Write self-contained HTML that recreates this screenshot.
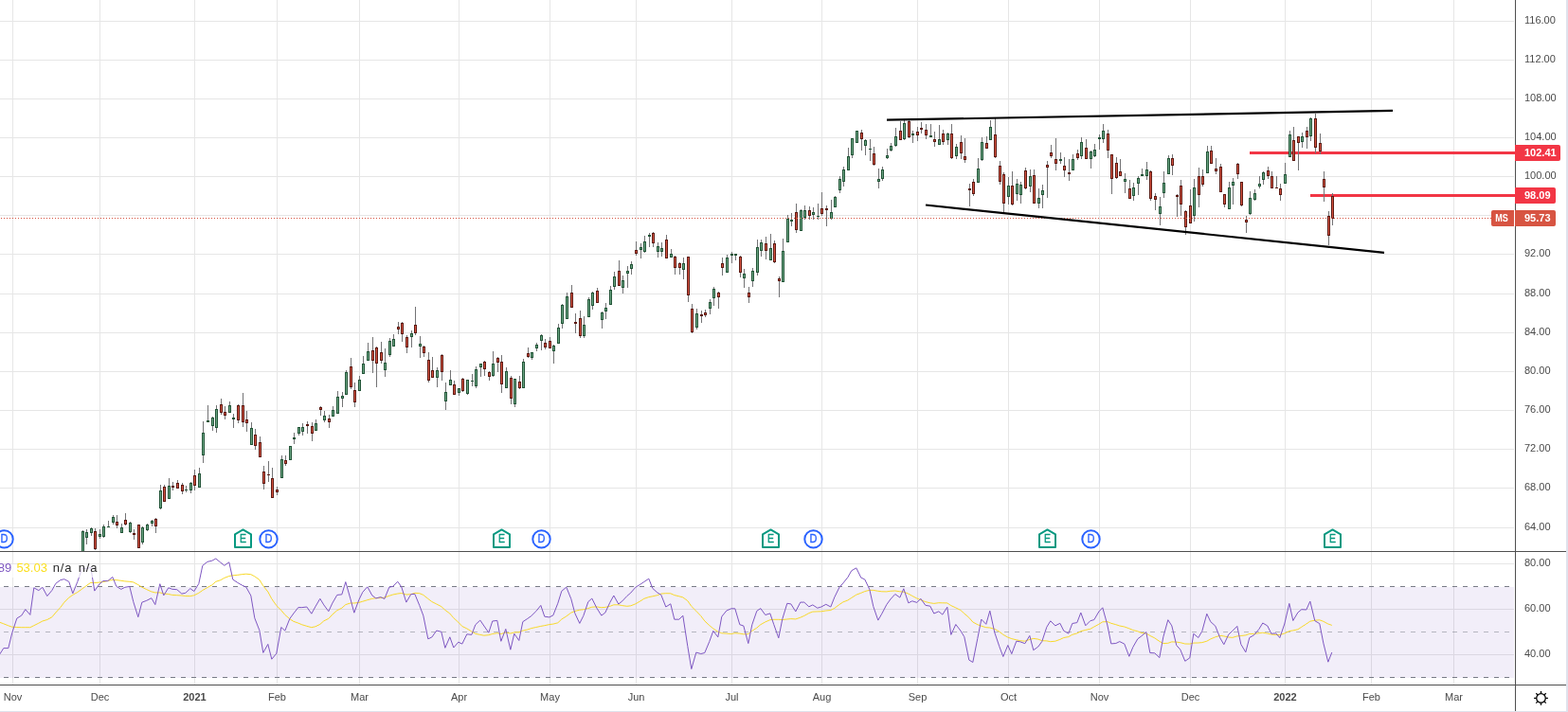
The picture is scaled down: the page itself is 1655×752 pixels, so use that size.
<!DOCTYPE html><html><head><meta charset="utf-8"><title>MS chart</title><style>html,body{margin:0;padding:0;background:#fff;}body{width:1655px;height:752px;overflow:hidden;position:relative;}svg{position:absolute;left:0;top:0;display:block}text{font-family:"Liberation Sans",Arial,sans-serif;}</style></head><body>
<svg width="1655" height="752" viewBox="0 0 1655 752">
<defs><clipPath id="mc"><rect x="0" y="0" width="1599" height="582"/></clipPath><clipPath id="rc"><rect x="0" y="583" width="1599" height="140"/></clipPath></defs>
<rect x="0" y="0" width="1655" height="752" fill="#ffffff"/>
<g shape-rendering="crispEdges">
<rect x="13" y="0" width="1" height="582" fill="#e6e6e6"/>
<rect x="13" y="583" width="1" height="140" fill="#e6e6e6"/>
<rect x="105" y="0" width="1" height="582" fill="#e6e6e6"/>
<rect x="105" y="583" width="1" height="140" fill="#e6e6e6"/>
<rect x="205" y="0" width="1" height="582" fill="#e6e6e6"/>
<rect x="205" y="583" width="1" height="140" fill="#e6e6e6"/>
<rect x="292" y="0" width="1" height="582" fill="#e6e6e6"/>
<rect x="292" y="583" width="1" height="140" fill="#e6e6e6"/>
<rect x="379" y="0" width="1" height="582" fill="#e6e6e6"/>
<rect x="379" y="583" width="1" height="140" fill="#e6e6e6"/>
<rect x="484" y="0" width="1" height="582" fill="#e6e6e6"/>
<rect x="484" y="583" width="1" height="140" fill="#e6e6e6"/>
<rect x="580" y="0" width="1" height="582" fill="#e6e6e6"/>
<rect x="580" y="583" width="1" height="140" fill="#e6e6e6"/>
<rect x="671" y="0" width="1" height="582" fill="#e6e6e6"/>
<rect x="671" y="583" width="1" height="140" fill="#e6e6e6"/>
<rect x="772" y="0" width="1" height="582" fill="#e6e6e6"/>
<rect x="772" y="583" width="1" height="140" fill="#e6e6e6"/>
<rect x="867" y="0" width="1" height="582" fill="#e6e6e6"/>
<rect x="867" y="583" width="1" height="140" fill="#e6e6e6"/>
<rect x="968" y="0" width="1" height="582" fill="#e6e6e6"/>
<rect x="968" y="583" width="1" height="140" fill="#e6e6e6"/>
<rect x="1064" y="0" width="1" height="582" fill="#e6e6e6"/>
<rect x="1064" y="583" width="1" height="140" fill="#e6e6e6"/>
<rect x="1160" y="0" width="1" height="582" fill="#e6e6e6"/>
<rect x="1160" y="583" width="1" height="140" fill="#e6e6e6"/>
<rect x="1256" y="0" width="1" height="582" fill="#e6e6e6"/>
<rect x="1256" y="583" width="1" height="140" fill="#e6e6e6"/>
<rect x="1356" y="0" width="1" height="582" fill="#e6e6e6"/>
<rect x="1356" y="583" width="1" height="140" fill="#e6e6e6"/>
<rect x="1447" y="0" width="1" height="582" fill="#e6e6e6"/>
<rect x="1447" y="583" width="1" height="140" fill="#e6e6e6"/>
<rect x="1534" y="0" width="1" height="582" fill="#e6e6e6"/>
<rect x="1534" y="583" width="1" height="140" fill="#e6e6e6"/>
<rect x="0" y="22" width="1598" height="1" fill="#e6e6e6"/>
<rect x="0" y="63" width="1598" height="1" fill="#e6e6e6"/>
<rect x="0" y="104" width="1598" height="1" fill="#e6e6e6"/>
<rect x="0" y="145" width="1598" height="1" fill="#e6e6e6"/>
<rect x="0" y="186" width="1598" height="1" fill="#e6e6e6"/>
<rect x="0" y="227" width="1598" height="1" fill="#e6e6e6"/>
<rect x="0" y="268" width="1598" height="1" fill="#e6e6e6"/>
<rect x="0" y="310" width="1598" height="1" fill="#e6e6e6"/>
<rect x="0" y="351" width="1598" height="1" fill="#e6e6e6"/>
<rect x="0" y="392" width="1598" height="1" fill="#e6e6e6"/>
<rect x="0" y="433" width="1598" height="1" fill="#e6e6e6"/>
<rect x="0" y="474" width="1598" height="1" fill="#e6e6e6"/>
<rect x="0" y="515" width="1598" height="1" fill="#e6e6e6"/>
<rect x="0" y="557" width="1598" height="1" fill="#e6e6e6"/>
<rect x="0" y="595" width="1598" height="1" fill="#e6e6e6"/>
<rect x="0" y="643" width="1598" height="1" fill="#e6e6e6"/>
<rect x="0" y="691" width="1598" height="1" fill="#e6e6e6"/>
<rect x="0" y="620" width="1598" height="96" fill="#7e57c2" fill-opacity="0.1"/>
</g>
<line x1="4" y1="619.5" x2="1598" y2="619.5" stroke="#787b86" stroke-opacity="1" stroke-width="1" stroke-dasharray="5 6" shape-rendering="crispEdges"/>
<line x1="4" y1="667.5" x2="1598" y2="667.5" stroke="#787b86" stroke-opacity="0.5" stroke-width="1" stroke-dasharray="5 6" shape-rendering="crispEdges"/>
<line x1="4" y1="715.5" x2="1598" y2="715.5" stroke="#787b86" stroke-opacity="1" stroke-width="1" stroke-dasharray="5 6" shape-rendering="crispEdges"/>
<rect x="1319" y="160" width="280" height="3" fill="#f23645" shape-rendering="crispEdges"/>
<rect x="1383" y="205" width="216" height="3" fill="#f23645" shape-rendering="crispEdges"/>
<g clip-path="url(#mc)" shape-rendering="crispEdges"><rect x="87" y="560" width="1" height="30" fill="#737375"/><rect x="86" y="561" width="3" height="29" fill="#225437"/><rect x="87" y="562" width="1" height="27" fill="#6ba583"/><rect x="91" y="559" width="1" height="16" fill="#737375"/><rect x="90" y="562" width="3" height="6" fill="#225437"/><rect x="91" y="563" width="1" height="4" fill="#6ba583"/><rect x="96" y="557" width="1" height="9" fill="#737375"/><rect x="95" y="558" width="3" height="5" fill="#225437"/><rect x="96" y="559" width="1" height="3" fill="#6ba583"/><rect x="100" y="558" width="1" height="23" fill="#737375"/><rect x="99" y="561" width="3" height="19" fill="#5b1a13"/><rect x="100" y="562" width="1" height="17" fill="#d75442"/><rect x="105" y="559" width="1" height="10" fill="#737375"/><rect x="104" y="564" width="3" height="3" fill="#225437"/><rect x="105" y="565" width="1" height="1" fill="#6ba583"/><rect x="109" y="554" width="1" height="14" fill="#737375"/><rect x="108" y="556" width="3" height="11" fill="#225437"/><rect x="109" y="557" width="1" height="9" fill="#6ba583"/><rect x="114" y="550" width="1" height="7" fill="#737375"/><rect x="113" y="556" width="3" height="1" fill="#225437"/><rect x="119" y="544" width="1" height="10" fill="#737375"/><rect x="118" y="546" width="3" height="6" fill="#225437"/><rect x="119" y="547" width="1" height="4" fill="#6ba583"/><rect x="123" y="544" width="1" height="14" fill="#737375"/><rect x="122" y="551" width="3" height="4" fill="#5b1a13"/><rect x="123" y="552" width="1" height="2" fill="#d75442"/><rect x="128" y="553" width="1" height="10" fill="#737375"/><rect x="127" y="557" width="3" height="6" fill="#225437"/><rect x="128" y="558" width="1" height="4" fill="#6ba583"/><rect x="132" y="542" width="1" height="13" fill="#737375"/><rect x="131" y="549" width="3" height="5" fill="#5b1a13"/><rect x="132" y="550" width="1" height="3" fill="#d75442"/><rect x="137" y="551" width="1" height="12" fill="#737375"/><rect x="136" y="552" width="3" height="10" fill="#225437"/><rect x="137" y="553" width="1" height="8" fill="#6ba583"/><rect x="141" y="559" width="1" height="11" fill="#737375"/><rect x="140" y="563" width="3" height="2" fill="#5b1a13"/><rect x="146" y="554" width="1" height="25" fill="#737375"/><rect x="145" y="554" width="3" height="25" fill="#5b1a13"/><rect x="146" y="555" width="1" height="23" fill="#d75442"/><rect x="150" y="556" width="1" height="19" fill="#737375"/><rect x="149" y="557" width="3" height="16" fill="#225437"/><rect x="150" y="558" width="1" height="14" fill="#6ba583"/><rect x="155" y="553" width="1" height="8" fill="#737375"/><rect x="154" y="554" width="3" height="6" fill="#225437"/><rect x="155" y="555" width="1" height="4" fill="#6ba583"/><rect x="160" y="549" width="1" height="7" fill="#737375"/><rect x="159" y="550" width="3" height="3" fill="#225437"/><rect x="160" y="551" width="1" height="1" fill="#6ba583"/><rect x="164" y="547" width="1" height="16" fill="#737375"/><rect x="163" y="548" width="3" height="8" fill="#5b1a13"/><rect x="164" y="549" width="1" height="6" fill="#d75442"/><rect x="169" y="512" width="1" height="26" fill="#737375"/><rect x="168" y="518" width="3" height="19" fill="#225437"/><rect x="169" y="519" width="1" height="17" fill="#6ba583"/><rect x="173" y="512" width="1" height="18" fill="#737375"/><rect x="172" y="514" width="3" height="16" fill="#5b1a13"/><rect x="173" y="515" width="1" height="14" fill="#d75442"/><rect x="178" y="505" width="1" height="22" fill="#737375"/><rect x="177" y="513" width="3" height="14" fill="#225437"/><rect x="178" y="514" width="1" height="12" fill="#6ba583"/><rect x="182" y="509" width="1" height="9" fill="#737375"/><rect x="181" y="513" width="3" height="2" fill="#5b1a13"/><rect x="187" y="507" width="1" height="9" fill="#737375"/><rect x="186" y="510" width="3" height="6" fill="#5b1a13"/><rect x="187" y="511" width="1" height="4" fill="#d75442"/><rect x="192" y="510" width="1" height="12" fill="#737375"/><rect x="191" y="512" width="3" height="7" fill="#5b1a13"/><rect x="192" y="513" width="1" height="5" fill="#d75442"/><rect x="196" y="513" width="1" height="7" fill="#737375"/><rect x="195" y="517" width="3" height="1" fill="#225437"/><rect x="201" y="509" width="1" height="12" fill="#737375"/><rect x="200" y="510" width="3" height="8" fill="#225437"/><rect x="201" y="511" width="1" height="6" fill="#6ba583"/><rect x="205" y="496" width="1" height="22" fill="#737375"/><rect x="204" y="502" width="3" height="11" fill="#5b1a13"/><rect x="205" y="503" width="1" height="9" fill="#d75442"/><rect x="210" y="494" width="1" height="21" fill="#737375"/><rect x="209" y="500" width="3" height="15" fill="#225437"/><rect x="210" y="501" width="1" height="13" fill="#6ba583"/><rect x="214" y="445" width="1" height="44" fill="#737375"/><rect x="213" y="457" width="3" height="24" fill="#225437"/><rect x="214" y="458" width="1" height="22" fill="#6ba583"/><rect x="219" y="428" width="1" height="18" fill="#737375"/><rect x="218" y="444" width="3" height="2" fill="#225437"/><rect x="224" y="440" width="1" height="15" fill="#737375"/><rect x="223" y="441" width="3" height="9" fill="#225437"/><rect x="224" y="442" width="1" height="7" fill="#6ba583"/><rect x="228" y="428" width="1" height="29" fill="#737375"/><rect x="227" y="432" width="3" height="20" fill="#225437"/><rect x="228" y="433" width="1" height="18" fill="#6ba583"/><rect x="233" y="421" width="1" height="17" fill="#737375"/><rect x="232" y="427" width="3" height="9" fill="#5b1a13"/><rect x="233" y="428" width="1" height="7" fill="#d75442"/><rect x="237" y="429" width="1" height="14" fill="#737375"/><rect x="236" y="435" width="3" height="4" fill="#5b1a13"/><rect x="237" y="436" width="1" height="2" fill="#d75442"/><rect x="242" y="424" width="1" height="12" fill="#737375"/><rect x="241" y="428" width="3" height="8" fill="#225437"/><rect x="242" y="429" width="1" height="6" fill="#6ba583"/><rect x="246" y="437" width="1" height="15" fill="#737375"/><rect x="245" y="441" width="3" height="2" fill="#225437"/><rect x="251" y="427" width="1" height="20" fill="#737375"/><rect x="250" y="428" width="3" height="16" fill="#5b1a13"/><rect x="251" y="429" width="1" height="14" fill="#d75442"/><rect x="256" y="415" width="1" height="36" fill="#737375"/><rect x="255" y="428" width="3" height="18" fill="#5b1a13"/><rect x="256" y="429" width="1" height="16" fill="#d75442"/><rect x="260" y="434" width="1" height="22" fill="#737375"/><rect x="259" y="443" width="3" height="4" fill="#5b1a13"/><rect x="260" y="444" width="1" height="2" fill="#d75442"/><rect x="265" y="446" width="1" height="24" fill="#737375"/><rect x="264" y="452" width="3" height="18" fill="#225437"/><rect x="265" y="453" width="1" height="16" fill="#6ba583"/><rect x="269" y="453" width="1" height="22" fill="#737375"/><rect x="268" y="459" width="3" height="12" fill="#5b1a13"/><rect x="269" y="460" width="1" height="10" fill="#d75442"/><rect x="274" y="461" width="1" height="22" fill="#737375"/><rect x="273" y="467" width="3" height="16" fill="#5b1a13"/><rect x="274" y="468" width="1" height="14" fill="#d75442"/><rect x="278" y="492" width="1" height="25" fill="#737375"/><rect x="277" y="498" width="3" height="13" fill="#5b1a13"/><rect x="278" y="499" width="1" height="11" fill="#d75442"/><rect x="283" y="487" width="1" height="22" fill="#737375"/><rect x="282" y="501" width="3" height="1" fill="#5b1a13"/><rect x="287" y="494" width="1" height="32" fill="#737375"/><rect x="286" y="505" width="3" height="21" fill="#5b1a13"/><rect x="287" y="506" width="1" height="19" fill="#d75442"/><rect x="292" y="514" width="1" height="9" fill="#737375"/><rect x="291" y="517" width="3" height="3" fill="#5b1a13"/><rect x="292" y="518" width="1" height="1" fill="#d75442"/><rect x="297" y="481" width="1" height="24" fill="#737375"/><rect x="296" y="485" width="3" height="20" fill="#225437"/><rect x="297" y="486" width="1" height="18" fill="#6ba583"/><rect x="301" y="481" width="1" height="11" fill="#737375"/><rect x="300" y="486" width="3" height="4" fill="#5b1a13"/><rect x="301" y="487" width="1" height="2" fill="#d75442"/><rect x="306" y="471" width="1" height="15" fill="#737375"/><rect x="305" y="471" width="3" height="15" fill="#225437"/><rect x="306" y="472" width="1" height="13" fill="#6ba583"/><rect x="310" y="457" width="1" height="12" fill="#737375"/><rect x="309" y="462" width="3" height="2" fill="#225437"/><rect x="315" y="451" width="1" height="9" fill="#737375"/><rect x="314" y="451" width="3" height="7" fill="#225437"/><rect x="315" y="452" width="1" height="5" fill="#6ba583"/><rect x="319" y="447" width="1" height="13" fill="#737375"/><rect x="318" y="451" width="3" height="5" fill="#225437"/><rect x="319" y="452" width="1" height="3" fill="#6ba583"/><rect x="324" y="445" width="1" height="13" fill="#737375"/><rect x="323" y="448" width="3" height="2" fill="#5b1a13"/><rect x="329" y="446" width="1" height="20" fill="#737375"/><rect x="328" y="450" width="3" height="8" fill="#5b1a13"/><rect x="329" y="451" width="1" height="6" fill="#d75442"/><rect x="333" y="443" width="1" height="12" fill="#737375"/><rect x="332" y="447" width="3" height="8" fill="#225437"/><rect x="333" y="448" width="1" height="6" fill="#6ba583"/><rect x="338" y="429" width="1" height="10" fill="#737375"/><rect x="337" y="430" width="3" height="3" fill="#5b1a13"/><rect x="338" y="431" width="1" height="1" fill="#d75442"/><rect x="342" y="434" width="1" height="12" fill="#737375"/><rect x="341" y="439" width="3" height="5" fill="#225437"/><rect x="342" y="440" width="1" height="3" fill="#6ba583"/><rect x="347" y="438" width="1" height="14" fill="#737375"/><rect x="346" y="442" width="3" height="4" fill="#5b1a13"/><rect x="347" y="443" width="1" height="2" fill="#d75442"/><rect x="351" y="429" width="1" height="11" fill="#737375"/><rect x="350" y="433" width="3" height="7" fill="#225437"/><rect x="351" y="434" width="1" height="5" fill="#6ba583"/><rect x="356" y="413" width="1" height="24" fill="#737375"/><rect x="355" y="419" width="3" height="18" fill="#225437"/><rect x="356" y="420" width="1" height="16" fill="#6ba583"/><rect x="361" y="414" width="1" height="16" fill="#737375"/><rect x="360" y="418" width="3" height="3" fill="#225437"/><rect x="361" y="419" width="1" height="1" fill="#6ba583"/><rect x="365" y="391" width="1" height="26" fill="#737375"/><rect x="364" y="393" width="3" height="24" fill="#225437"/><rect x="365" y="394" width="1" height="22" fill="#6ba583"/><rect x="370" y="378" width="1" height="33" fill="#737375"/><rect x="369" y="387" width="3" height="22" fill="#5b1a13"/><rect x="370" y="388" width="1" height="20" fill="#d75442"/><rect x="374" y="404" width="1" height="26" fill="#737375"/><rect x="373" y="412" width="3" height="13" fill="#5b1a13"/><rect x="374" y="413" width="1" height="11" fill="#d75442"/><rect x="379" y="397" width="1" height="16" fill="#737375"/><rect x="378" y="401" width="3" height="12" fill="#225437"/><rect x="379" y="402" width="1" height="10" fill="#6ba583"/><rect x="383" y="376" width="1" height="19" fill="#737375"/><rect x="382" y="384" width="3" height="11" fill="#225437"/><rect x="383" y="385" width="1" height="9" fill="#6ba583"/><rect x="388" y="362" width="1" height="19" fill="#737375"/><rect x="387" y="371" width="3" height="10" fill="#225437"/><rect x="388" y="372" width="1" height="8" fill="#6ba583"/><rect x="393" y="356" width="1" height="38" fill="#737375"/><rect x="392" y="370" width="3" height="11" fill="#5b1a13"/><rect x="393" y="371" width="1" height="9" fill="#d75442"/><rect x="397" y="366" width="1" height="43" fill="#737375"/><rect x="396" y="367" width="3" height="17" fill="#5b1a13"/><rect x="397" y="368" width="1" height="15" fill="#d75442"/><rect x="402" y="361" width="1" height="23" fill="#737375"/><rect x="401" y="372" width="3" height="9" fill="#5b1a13"/><rect x="402" y="373" width="1" height="7" fill="#d75442"/><rect x="406" y="368" width="1" height="30" fill="#737375"/><rect x="405" y="383" width="3" height="8" fill="#225437"/><rect x="406" y="384" width="1" height="6" fill="#6ba583"/><rect x="411" y="357" width="1" height="20" fill="#737375"/><rect x="410" y="360" width="3" height="15" fill="#225437"/><rect x="411" y="361" width="1" height="13" fill="#6ba583"/><rect x="415" y="353" width="1" height="13" fill="#737375"/><rect x="414" y="358" width="3" height="8" fill="#225437"/><rect x="415" y="359" width="1" height="6" fill="#6ba583"/><rect x="420" y="340" width="1" height="13" fill="#737375"/><rect x="419" y="345" width="3" height="3" fill="#5b1a13"/><rect x="420" y="346" width="1" height="1" fill="#d75442"/><rect x="424" y="340" width="1" height="21" fill="#737375"/><rect x="423" y="341" width="3" height="12" fill="#5b1a13"/><rect x="424" y="342" width="1" height="10" fill="#d75442"/><rect x="429" y="354" width="1" height="19" fill="#737375"/><rect x="428" y="356" width="3" height="11" fill="#5b1a13"/><rect x="429" y="357" width="1" height="9" fill="#d75442"/><rect x="434" y="349" width="1" height="18" fill="#737375"/><rect x="433" y="352" width="3" height="4" fill="#225437"/><rect x="434" y="353" width="1" height="2" fill="#6ba583"/><rect x="438" y="324" width="1" height="30" fill="#737375"/><rect x="437" y="343" width="3" height="9" fill="#5b1a13"/><rect x="438" y="344" width="1" height="7" fill="#d75442"/><rect x="443" y="355" width="1" height="23" fill="#737375"/><rect x="442" y="363" width="3" height="3" fill="#225437"/><rect x="443" y="364" width="1" height="1" fill="#6ba583"/><rect x="447" y="365" width="1" height="12" fill="#737375"/><rect x="446" y="366" width="3" height="7" fill="#5b1a13"/><rect x="447" y="367" width="1" height="5" fill="#d75442"/><rect x="452" y="372" width="1" height="32" fill="#737375"/><rect x="451" y="380" width="3" height="22" fill="#5b1a13"/><rect x="452" y="381" width="1" height="20" fill="#d75442"/><rect x="456" y="377" width="1" height="22" fill="#737375"/><rect x="455" y="391" width="3" height="8" fill="#5b1a13"/><rect x="456" y="392" width="1" height="6" fill="#d75442"/><rect x="461" y="388" width="1" height="21" fill="#737375"/><rect x="460" y="391" width="3" height="8" fill="#225437"/><rect x="461" y="392" width="1" height="6" fill="#6ba583"/><rect x="466" y="374" width="1" height="28" fill="#737375"/><rect x="465" y="375" width="3" height="18" fill="#5b1a13"/><rect x="466" y="376" width="1" height="16" fill="#d75442"/><rect x="470" y="404" width="1" height="29" fill="#737375"/><rect x="469" y="414" width="3" height="10" fill="#225437"/><rect x="470" y="415" width="1" height="8" fill="#6ba583"/><rect x="475" y="391" width="1" height="16" fill="#737375"/><rect x="474" y="401" width="3" height="6" fill="#225437"/><rect x="475" y="402" width="1" height="4" fill="#6ba583"/><rect x="479" y="402" width="1" height="15" fill="#737375"/><rect x="478" y="406" width="3" height="11" fill="#5b1a13"/><rect x="479" y="407" width="1" height="9" fill="#d75442"/><rect x="484" y="410" width="1" height="8" fill="#737375"/><rect x="483" y="410" width="3" height="5" fill="#225437"/><rect x="484" y="411" width="1" height="3" fill="#6ba583"/><rect x="488" y="399" width="1" height="15" fill="#737375"/><rect x="487" y="400" width="3" height="13" fill="#5b1a13"/><rect x="488" y="401" width="1" height="11" fill="#d75442"/><rect x="493" y="401" width="1" height="16" fill="#737375"/><rect x="492" y="401" width="3" height="15" fill="#225437"/><rect x="493" y="402" width="1" height="13" fill="#6ba583"/><rect x="498" y="395" width="1" height="13" fill="#737375"/><rect x="497" y="402" width="3" height="1" fill="#225437"/><rect x="502" y="387" width="1" height="23" fill="#737375"/><rect x="501" y="390" width="3" height="18" fill="#225437"/><rect x="502" y="391" width="1" height="16" fill="#6ba583"/><rect x="507" y="384" width="1" height="14" fill="#737375"/><rect x="506" y="384" width="3" height="4" fill="#225437"/><rect x="507" y="385" width="1" height="2" fill="#6ba583"/><rect x="511" y="381" width="1" height="16" fill="#737375"/><rect x="510" y="382" width="3" height="8" fill="#5b1a13"/><rect x="511" y="383" width="1" height="6" fill="#d75442"/><rect x="516" y="392" width="1" height="10" fill="#737375"/><rect x="515" y="393" width="3" height="5" fill="#5b1a13"/><rect x="516" y="394" width="1" height="3" fill="#d75442"/><rect x="520" y="371" width="1" height="27" fill="#737375"/><rect x="519" y="384" width="3" height="13" fill="#225437"/><rect x="520" y="385" width="1" height="11" fill="#6ba583"/><rect x="525" y="377" width="1" height="16" fill="#737375"/><rect x="524" y="378" width="3" height="5" fill="#5b1a13"/><rect x="525" y="379" width="1" height="3" fill="#d75442"/><rect x="529" y="375" width="1" height="40" fill="#737375"/><rect x="528" y="382" width="3" height="24" fill="#5b1a13"/><rect x="529" y="383" width="1" height="22" fill="#d75442"/><rect x="534" y="388" width="1" height="22" fill="#737375"/><rect x="533" y="392" width="3" height="18" fill="#225437"/><rect x="534" y="393" width="1" height="16" fill="#6ba583"/><rect x="539" y="397" width="1" height="30" fill="#737375"/><rect x="538" y="399" width="3" height="22" fill="#5b1a13"/><rect x="539" y="400" width="1" height="20" fill="#d75442"/><rect x="543" y="400" width="1" height="30" fill="#737375"/><rect x="542" y="400" width="3" height="27" fill="#225437"/><rect x="543" y="401" width="1" height="25" fill="#6ba583"/><rect x="548" y="397" width="1" height="14" fill="#737375"/><rect x="547" y="403" width="3" height="7" fill="#5b1a13"/><rect x="548" y="404" width="1" height="5" fill="#d75442"/><rect x="552" y="379" width="1" height="31" fill="#737375"/><rect x="551" y="382" width="3" height="28" fill="#225437"/><rect x="552" y="383" width="1" height="26" fill="#6ba583"/><rect x="557" y="367" width="1" height="11" fill="#737375"/><rect x="556" y="373" width="3" height="4" fill="#5b1a13"/><rect x="557" y="374" width="1" height="2" fill="#d75442"/><rect x="561" y="372" width="1" height="8" fill="#737375"/><rect x="560" y="372" width="3" height="6" fill="#225437"/><rect x="561" y="373" width="1" height="4" fill="#6ba583"/><rect x="566" y="362" width="1" height="9" fill="#737375"/><rect x="565" y="364" width="3" height="4" fill="#225437"/><rect x="566" y="365" width="1" height="2" fill="#6ba583"/><rect x="571" y="353" width="1" height="17" fill="#737375"/><rect x="570" y="354" width="3" height="6" fill="#225437"/><rect x="571" y="355" width="1" height="4" fill="#6ba583"/><rect x="575" y="358" width="1" height="11" fill="#737375"/><rect x="574" y="362" width="3" height="5" fill="#5b1a13"/><rect x="575" y="363" width="1" height="3" fill="#d75442"/><rect x="580" y="356" width="1" height="12" fill="#737375"/><rect x="579" y="360" width="3" height="8" fill="#5b1a13"/><rect x="580" y="361" width="1" height="6" fill="#d75442"/><rect x="584" y="364" width="1" height="20" fill="#737375"/><rect x="583" y="365" width="3" height="6" fill="#225437"/><rect x="584" y="366" width="1" height="4" fill="#6ba583"/><rect x="589" y="342" width="1" height="21" fill="#737375"/><rect x="588" y="346" width="3" height="17" fill="#225437"/><rect x="589" y="347" width="1" height="15" fill="#6ba583"/><rect x="593" y="321" width="1" height="26" fill="#737375"/><rect x="592" y="322" width="3" height="20" fill="#225437"/><rect x="593" y="323" width="1" height="18" fill="#6ba583"/><rect x="598" y="309" width="1" height="28" fill="#737375"/><rect x="597" y="313" width="3" height="24" fill="#225437"/><rect x="598" y="314" width="1" height="22" fill="#6ba583"/><rect x="603" y="301" width="1" height="24" fill="#737375"/><rect x="602" y="309" width="3" height="16" fill="#5b1a13"/><rect x="603" y="310" width="1" height="14" fill="#d75442"/><rect x="607" y="331" width="1" height="21" fill="#737375"/><rect x="606" y="340" width="3" height="2" fill="#5b1a13"/><rect x="612" y="328" width="1" height="29" fill="#737375"/><rect x="611" y="336" width="3" height="19" fill="#5b1a13"/><rect x="612" y="337" width="1" height="17" fill="#d75442"/><rect x="616" y="334" width="1" height="23" fill="#737375"/><rect x="615" y="343" width="3" height="12" fill="#225437"/><rect x="616" y="344" width="1" height="10" fill="#6ba583"/><rect x="621" y="314" width="1" height="21" fill="#737375"/><rect x="620" y="316" width="3" height="19" fill="#225437"/><rect x="621" y="317" width="1" height="17" fill="#6ba583"/><rect x="625" y="308" width="1" height="19" fill="#737375"/><rect x="624" y="309" width="3" height="14" fill="#225437"/><rect x="625" y="310" width="1" height="12" fill="#6ba583"/><rect x="630" y="304" width="1" height="16" fill="#737375"/><rect x="629" y="307" width="3" height="13" fill="#5b1a13"/><rect x="630" y="308" width="1" height="11" fill="#d75442"/><rect x="635" y="329" width="1" height="18" fill="#737375"/><rect x="634" y="330" width="3" height="8" fill="#225437"/><rect x="635" y="331" width="1" height="6" fill="#6ba583"/><rect x="639" y="320" width="1" height="17" fill="#737375"/><rect x="638" y="325" width="3" height="4" fill="#225437"/><rect x="639" y="326" width="1" height="2" fill="#6ba583"/><rect x="644" y="302" width="1" height="20" fill="#737375"/><rect x="643" y="306" width="3" height="16" fill="#225437"/><rect x="644" y="307" width="1" height="14" fill="#6ba583"/><rect x="648" y="287" width="1" height="19" fill="#737375"/><rect x="647" y="292" width="3" height="11" fill="#225437"/><rect x="648" y="293" width="1" height="9" fill="#6ba583"/><rect x="653" y="275" width="1" height="27" fill="#737375"/><rect x="652" y="286" width="3" height="16" fill="#5b1a13"/><rect x="653" y="287" width="1" height="14" fill="#d75442"/><rect x="657" y="291" width="1" height="19" fill="#737375"/><rect x="656" y="296" width="3" height="8" fill="#225437"/><rect x="657" y="297" width="1" height="6" fill="#6ba583"/><rect x="662" y="281" width="1" height="23" fill="#737375"/><rect x="661" y="286" width="3" height="3" fill="#225437"/><rect x="662" y="287" width="1" height="1" fill="#6ba583"/><rect x="666" y="276" width="1" height="14" fill="#737375"/><rect x="665" y="279" width="3" height="5" fill="#225437"/><rect x="666" y="280" width="1" height="3" fill="#6ba583"/><rect x="671" y="255" width="1" height="15" fill="#737375"/><rect x="670" y="264" width="3" height="4" fill="#5b1a13"/><rect x="671" y="265" width="1" height="2" fill="#d75442"/><rect x="676" y="257" width="1" height="16" fill="#737375"/><rect x="675" y="261" width="3" height="3" fill="#225437"/><rect x="676" y="262" width="1" height="1" fill="#6ba583"/><rect x="680" y="249" width="1" height="18" fill="#737375"/><rect x="679" y="255" width="3" height="11" fill="#225437"/><rect x="680" y="256" width="1" height="9" fill="#6ba583"/><rect x="685" y="246" width="1" height="15" fill="#737375"/><rect x="684" y="248" width="3" height="2" fill="#225437"/><rect x="689" y="245" width="1" height="16" fill="#737375"/><rect x="688" y="246" width="3" height="11" fill="#5b1a13"/><rect x="689" y="247" width="1" height="9" fill="#d75442"/><rect x="694" y="256" width="1" height="16" fill="#737375"/><rect x="693" y="260" width="3" height="6" fill="#225437"/><rect x="694" y="261" width="1" height="4" fill="#6ba583"/><rect x="698" y="256" width="1" height="15" fill="#737375"/><rect x="697" y="262" width="3" height="4" fill="#225437"/><rect x="698" y="263" width="1" height="2" fill="#6ba583"/><rect x="703" y="248" width="1" height="25" fill="#737375"/><rect x="702" y="253" width="3" height="20" fill="#5b1a13"/><rect x="703" y="254" width="1" height="18" fill="#d75442"/><rect x="708" y="263" width="1" height="9" fill="#737375"/><rect x="707" y="268" width="3" height="4" fill="#225437"/><rect x="708" y="269" width="1" height="2" fill="#6ba583"/><rect x="712" y="270" width="1" height="20" fill="#737375"/><rect x="711" y="271" width="3" height="12" fill="#5b1a13"/><rect x="712" y="272" width="1" height="10" fill="#d75442"/><rect x="717" y="277" width="1" height="13" fill="#737375"/><rect x="716" y="278" width="3" height="5" fill="#5b1a13"/><rect x="717" y="279" width="1" height="3" fill="#d75442"/><rect x="721" y="272" width="1" height="23" fill="#737375"/><rect x="720" y="278" width="3" height="7" fill="#225437"/><rect x="721" y="279" width="1" height="5" fill="#6ba583"/><rect x="726" y="271" width="1" height="48" fill="#737375"/><rect x="725" y="271" width="3" height="41" fill="#5b1a13"/><rect x="726" y="272" width="1" height="39" fill="#d75442"/><rect x="730" y="321" width="1" height="31" fill="#737375"/><rect x="729" y="326" width="3" height="25" fill="#5b1a13"/><rect x="730" y="327" width="1" height="23" fill="#d75442"/><rect x="735" y="326" width="1" height="22" fill="#737375"/><rect x="734" y="331" width="3" height="15" fill="#225437"/><rect x="735" y="332" width="1" height="13" fill="#6ba583"/><rect x="740" y="328" width="1" height="13" fill="#737375"/><rect x="739" y="332" width="3" height="2" fill="#5b1a13"/><rect x="744" y="327" width="1" height="8" fill="#737375"/><rect x="743" y="330" width="3" height="3" fill="#5b1a13"/><rect x="744" y="331" width="1" height="1" fill="#d75442"/><rect x="749" y="316" width="1" height="16" fill="#737375"/><rect x="748" y="319" width="3" height="7" fill="#225437"/><rect x="749" y="320" width="1" height="5" fill="#6ba583"/><rect x="753" y="303" width="1" height="20" fill="#737375"/><rect x="752" y="305" width="3" height="10" fill="#225437"/><rect x="753" y="306" width="1" height="8" fill="#6ba583"/><rect x="758" y="308" width="1" height="18" fill="#737375"/><rect x="757" y="309" width="3" height="5" fill="#5b1a13"/><rect x="758" y="310" width="1" height="3" fill="#d75442"/><rect x="762" y="272" width="1" height="19" fill="#737375"/><rect x="761" y="278" width="3" height="5" fill="#5b1a13"/><rect x="762" y="279" width="1" height="3" fill="#d75442"/><rect x="767" y="269" width="1" height="19" fill="#737375"/><rect x="766" y="272" width="3" height="16" fill="#225437"/><rect x="767" y="273" width="1" height="14" fill="#6ba583"/><rect x="772" y="266" width="1" height="12" fill="#737375"/><rect x="771" y="268" width="3" height="2" fill="#225437"/><rect x="776" y="268" width="1" height="7" fill="#737375"/><rect x="775" y="268" width="3" height="2" fill="#225437"/><rect x="781" y="270" width="1" height="23" fill="#737375"/><rect x="780" y="271" width="3" height="17" fill="#5b1a13"/><rect x="781" y="272" width="1" height="15" fill="#d75442"/><rect x="785" y="284" width="1" height="20" fill="#737375"/><rect x="784" y="289" width="3" height="5" fill="#225437"/><rect x="785" y="290" width="1" height="3" fill="#6ba583"/><rect x="790" y="303" width="1" height="17" fill="#737375"/><rect x="789" y="309" width="3" height="5" fill="#5b1a13"/><rect x="790" y="310" width="1" height="3" fill="#d75442"/><rect x="794" y="283" width="1" height="20" fill="#737375"/><rect x="793" y="286" width="3" height="11" fill="#225437"/><rect x="794" y="287" width="1" height="9" fill="#6ba583"/><rect x="799" y="253" width="1" height="38" fill="#737375"/><rect x="798" y="261" width="3" height="27" fill="#225437"/><rect x="799" y="262" width="1" height="25" fill="#6ba583"/><rect x="803" y="253" width="1" height="18" fill="#737375"/><rect x="802" y="256" width="3" height="9" fill="#225437"/><rect x="803" y="257" width="1" height="7" fill="#6ba583"/><rect x="808" y="250" width="1" height="24" fill="#737375"/><rect x="807" y="257" width="3" height="8" fill="#5b1a13"/><rect x="808" y="258" width="1" height="6" fill="#d75442"/><rect x="813" y="247" width="1" height="28" fill="#737375"/><rect x="812" y="262" width="3" height="13" fill="#225437"/><rect x="813" y="263" width="1" height="11" fill="#6ba583"/><rect x="817" y="254" width="1" height="24" fill="#737375"/><rect x="816" y="257" width="3" height="20" fill="#5b1a13"/><rect x="817" y="258" width="1" height="18" fill="#d75442"/><rect x="822" y="292" width="1" height="22" fill="#737375"/><rect x="821" y="294" width="3" height="3" fill="#5b1a13"/><rect x="822" y="295" width="1" height="1" fill="#d75442"/><rect x="826" y="252" width="1" height="46" fill="#737375"/><rect x="825" y="265" width="3" height="33" fill="#225437"/><rect x="826" y="266" width="1" height="31" fill="#6ba583"/><rect x="831" y="227" width="1" height="29" fill="#737375"/><rect x="830" y="231" width="3" height="25" fill="#225437"/><rect x="831" y="232" width="1" height="23" fill="#6ba583"/><rect x="835" y="225" width="1" height="14" fill="#737375"/><rect x="834" y="232" width="3" height="2" fill="#225437"/><rect x="840" y="215" width="1" height="31" fill="#737375"/><rect x="839" y="224" width="3" height="19" fill="#5b1a13"/><rect x="840" y="225" width="1" height="17" fill="#d75442"/><rect x="845" y="221" width="1" height="23" fill="#737375"/><rect x="844" y="222" width="3" height="22" fill="#225437"/><rect x="845" y="223" width="1" height="20" fill="#6ba583"/><rect x="849" y="217" width="1" height="15" fill="#737375"/><rect x="848" y="222" width="3" height="8" fill="#225437"/><rect x="849" y="223" width="1" height="6" fill="#6ba583"/><rect x="854" y="218" width="1" height="14" fill="#737375"/><rect x="853" y="222" width="3" height="6" fill="#5b1a13"/><rect x="854" y="223" width="1" height="4" fill="#d75442"/><rect x="858" y="219" width="1" height="13" fill="#737375"/><rect x="857" y="224" width="3" height="3" fill="#225437"/><rect x="858" y="225" width="1" height="1" fill="#6ba583"/><rect x="863" y="215" width="1" height="17" fill="#737375"/><rect x="862" y="228" width="3" height="1" fill="#225437"/><rect x="867" y="203" width="1" height="25" fill="#737375"/><rect x="866" y="220" width="3" height="6" fill="#5b1a13"/><rect x="867" y="221" width="1" height="4" fill="#d75442"/><rect x="872" y="217" width="1" height="22" fill="#737375"/><rect x="871" y="220" width="3" height="2" fill="#5b1a13"/><rect x="877" y="211" width="1" height="21" fill="#737375"/><rect x="876" y="224" width="3" height="7" fill="#225437"/><rect x="877" y="225" width="1" height="5" fill="#6ba583"/><rect x="881" y="207" width="1" height="12" fill="#737375"/><rect x="880" y="208" width="3" height="11" fill="#225437"/><rect x="881" y="209" width="1" height="9" fill="#6ba583"/><rect x="886" y="186" width="1" height="18" fill="#737375"/><rect x="885" y="189" width="3" height="12" fill="#225437"/><rect x="886" y="190" width="1" height="10" fill="#6ba583"/><rect x="890" y="176" width="1" height="21" fill="#737375"/><rect x="889" y="179" width="3" height="13" fill="#225437"/><rect x="890" y="180" width="1" height="11" fill="#6ba583"/><rect x="895" y="156" width="1" height="24" fill="#737375"/><rect x="894" y="165" width="3" height="15" fill="#225437"/><rect x="895" y="166" width="1" height="13" fill="#6ba583"/><rect x="899" y="146" width="1" height="21" fill="#737375"/><rect x="898" y="146" width="3" height="18" fill="#225437"/><rect x="899" y="147" width="1" height="16" fill="#6ba583"/><rect x="904" y="138" width="1" height="13" fill="#737375"/><rect x="903" y="138" width="3" height="13" fill="#225437"/><rect x="904" y="139" width="1" height="11" fill="#6ba583"/><rect x="909" y="137" width="1" height="22" fill="#737375"/><rect x="908" y="140" width="3" height="7" fill="#5b1a13"/><rect x="909" y="141" width="1" height="5" fill="#d75442"/><rect x="913" y="147" width="1" height="17" fill="#737375"/><rect x="912" y="148" width="3" height="6" fill="#225437"/><rect x="913" y="149" width="1" height="4" fill="#6ba583"/><rect x="918" y="147" width="1" height="23" fill="#737375"/><rect x="917" y="157" width="3" height="1" fill="#225437"/><rect x="922" y="155" width="1" height="20" fill="#737375"/><rect x="921" y="162" width="3" height="12" fill="#5b1a13"/><rect x="922" y="163" width="1" height="10" fill="#d75442"/><rect x="927" y="178" width="1" height="21" fill="#737375"/><rect x="926" y="189" width="3" height="3" fill="#225437"/><rect x="927" y="190" width="1" height="1" fill="#6ba583"/><rect x="931" y="176" width="1" height="15" fill="#737375"/><rect x="930" y="179" width="3" height="10" fill="#225437"/><rect x="931" y="180" width="1" height="8" fill="#6ba583"/><rect x="936" y="157" width="1" height="11" fill="#737375"/><rect x="935" y="164" width="3" height="3" fill="#225437"/><rect x="936" y="165" width="1" height="1" fill="#6ba583"/><rect x="940" y="151" width="1" height="9" fill="#737375"/><rect x="939" y="154" width="3" height="5" fill="#225437"/><rect x="940" y="155" width="1" height="3" fill="#6ba583"/><rect x="945" y="135" width="1" height="20" fill="#737375"/><rect x="944" y="144" width="3" height="10" fill="#225437"/><rect x="945" y="145" width="1" height="8" fill="#6ba583"/><rect x="950" y="128" width="1" height="20" fill="#737375"/><rect x="949" y="138" width="3" height="10" fill="#5b1a13"/><rect x="950" y="139" width="1" height="8" fill="#d75442"/><rect x="954" y="127" width="1" height="21" fill="#737375"/><rect x="953" y="130" width="3" height="17" fill="#225437"/><rect x="954" y="131" width="1" height="15" fill="#6ba583"/><rect x="959" y="126" width="1" height="20" fill="#737375"/><rect x="958" y="128" width="3" height="17" fill="#5b1a13"/><rect x="959" y="129" width="1" height="15" fill="#d75442"/><rect x="963" y="138" width="1" height="13" fill="#737375"/><rect x="962" y="141" width="3" height="2" fill="#225437"/><rect x="968" y="134" width="1" height="15" fill="#737375"/><rect x="967" y="139" width="3" height="4" fill="#5b1a13"/><rect x="968" y="140" width="1" height="2" fill="#d75442"/><rect x="972" y="129" width="1" height="12" fill="#737375"/><rect x="971" y="135" width="3" height="2" fill="#5b1a13"/><rect x="977" y="131" width="1" height="16" fill="#737375"/><rect x="976" y="137" width="3" height="6" fill="#5b1a13"/><rect x="977" y="138" width="1" height="4" fill="#d75442"/><rect x="982" y="131" width="1" height="14" fill="#737375"/><rect x="981" y="143" width="3" height="2" fill="#225437"/><rect x="986" y="139" width="1" height="16" fill="#737375"/><rect x="985" y="147" width="3" height="3" fill="#5b1a13"/><rect x="986" y="148" width="1" height="1" fill="#d75442"/><rect x="991" y="132" width="1" height="21" fill="#737375"/><rect x="990" y="147" width="3" height="6" fill="#225437"/><rect x="991" y="148" width="1" height="4" fill="#6ba583"/><rect x="995" y="137" width="1" height="16" fill="#737375"/><rect x="994" y="141" width="3" height="9" fill="#5b1a13"/><rect x="995" y="142" width="1" height="7" fill="#d75442"/><rect x="1000" y="140" width="1" height="13" fill="#737375"/><rect x="999" y="141" width="3" height="7" fill="#225437"/><rect x="1000" y="142" width="1" height="5" fill="#6ba583"/><rect x="1004" y="131" width="1" height="37" fill="#737375"/><rect x="1003" y="141" width="3" height="26" fill="#5b1a13"/><rect x="1004" y="142" width="1" height="24" fill="#d75442"/><rect x="1009" y="152" width="1" height="16" fill="#737375"/><rect x="1008" y="155" width="3" height="10" fill="#225437"/><rect x="1009" y="156" width="1" height="8" fill="#6ba583"/><rect x="1014" y="143" width="1" height="25" fill="#737375"/><rect x="1013" y="150" width="3" height="12" fill="#5b1a13"/><rect x="1014" y="151" width="1" height="10" fill="#d75442"/><rect x="1018" y="146" width="1" height="26" fill="#737375"/><rect x="1017" y="165" width="3" height="4" fill="#5b1a13"/><rect x="1018" y="166" width="1" height="2" fill="#d75442"/><rect x="1023" y="194" width="1" height="24" fill="#737375"/><rect x="1022" y="199" width="3" height="2" fill="#5b1a13"/><rect x="1027" y="189" width="1" height="18" fill="#737375"/><rect x="1026" y="192" width="3" height="13" fill="#5b1a13"/><rect x="1027" y="193" width="1" height="11" fill="#d75442"/><rect x="1032" y="167" width="1" height="26" fill="#737375"/><rect x="1031" y="178" width="3" height="15" fill="#225437"/><rect x="1032" y="179" width="1" height="13" fill="#6ba583"/><rect x="1036" y="145" width="1" height="25" fill="#737375"/><rect x="1035" y="150" width="3" height="19" fill="#225437"/><rect x="1036" y="151" width="1" height="17" fill="#6ba583"/><rect x="1041" y="144" width="1" height="13" fill="#737375"/><rect x="1040" y="151" width="3" height="6" fill="#5b1a13"/><rect x="1041" y="152" width="1" height="4" fill="#d75442"/><rect x="1045" y="127" width="1" height="21" fill="#737375"/><rect x="1044" y="134" width="3" height="14" fill="#225437"/><rect x="1045" y="135" width="1" height="12" fill="#6ba583"/><rect x="1050" y="125" width="1" height="42" fill="#737375"/><rect x="1049" y="142" width="3" height="24" fill="#5b1a13"/><rect x="1050" y="143" width="1" height="22" fill="#d75442"/><rect x="1055" y="170" width="1" height="25" fill="#737375"/><rect x="1054" y="175" width="3" height="17" fill="#5b1a13"/><rect x="1055" y="176" width="1" height="15" fill="#d75442"/><rect x="1059" y="182" width="1" height="43" fill="#737375"/><rect x="1058" y="184" width="3" height="31" fill="#5b1a13"/><rect x="1059" y="185" width="1" height="29" fill="#d75442"/><rect x="1064" y="187" width="1" height="29" fill="#737375"/><rect x="1063" y="196" width="3" height="12" fill="#225437"/><rect x="1064" y="197" width="1" height="10" fill="#6ba583"/><rect x="1068" y="181" width="1" height="36" fill="#737375"/><rect x="1067" y="196" width="3" height="20" fill="#5b1a13"/><rect x="1068" y="197" width="1" height="18" fill="#d75442"/><rect x="1073" y="189" width="1" height="23" fill="#737375"/><rect x="1072" y="194" width="3" height="11" fill="#225437"/><rect x="1073" y="195" width="1" height="9" fill="#6ba583"/><rect x="1077" y="192" width="1" height="23" fill="#737375"/><rect x="1076" y="195" width="3" height="11" fill="#225437"/><rect x="1077" y="196" width="1" height="9" fill="#6ba583"/><rect x="1082" y="177" width="1" height="23" fill="#737375"/><rect x="1081" y="180" width="3" height="19" fill="#5b1a13"/><rect x="1082" y="181" width="1" height="17" fill="#d75442"/><rect x="1087" y="179" width="1" height="24" fill="#737375"/><rect x="1086" y="186" width="3" height="11" fill="#225437"/><rect x="1087" y="187" width="1" height="9" fill="#6ba583"/><rect x="1091" y="179" width="1" height="36" fill="#737375"/><rect x="1090" y="185" width="3" height="30" fill="#5b1a13"/><rect x="1091" y="186" width="1" height="28" fill="#d75442"/><rect x="1096" y="199" width="1" height="21" fill="#737375"/><rect x="1095" y="209" width="3" height="6" fill="#225437"/><rect x="1096" y="210" width="1" height="4" fill="#6ba583"/><rect x="1100" y="195" width="1" height="25" fill="#737375"/><rect x="1099" y="201" width="3" height="5" fill="#225437"/><rect x="1100" y="202" width="1" height="3" fill="#6ba583"/><rect x="1105" y="170" width="1" height="39" fill="#737375"/><rect x="1104" y="174" width="3" height="3" fill="#5b1a13"/><rect x="1105" y="175" width="1" height="1" fill="#d75442"/><rect x="1109" y="153" width="1" height="14" fill="#737375"/><rect x="1108" y="161" width="3" height="4" fill="#5b1a13"/><rect x="1109" y="162" width="1" height="2" fill="#d75442"/><rect x="1114" y="146" width="1" height="34" fill="#737375"/><rect x="1113" y="168" width="3" height="5" fill="#5b1a13"/><rect x="1114" y="169" width="1" height="3" fill="#d75442"/><rect x="1119" y="161" width="1" height="12" fill="#737375"/><rect x="1118" y="168" width="3" height="2" fill="#225437"/><rect x="1123" y="166" width="1" height="21" fill="#737375"/><rect x="1122" y="175" width="3" height="5" fill="#5b1a13"/><rect x="1123" y="176" width="1" height="3" fill="#d75442"/><rect x="1128" y="168" width="1" height="23" fill="#737375"/><rect x="1127" y="182" width="3" height="2" fill="#5b1a13"/><rect x="1132" y="163" width="1" height="17" fill="#737375"/><rect x="1131" y="168" width="3" height="12" fill="#225437"/><rect x="1132" y="169" width="1" height="10" fill="#6ba583"/><rect x="1137" y="158" width="1" height="11" fill="#737375"/><rect x="1136" y="162" width="3" height="5" fill="#5b1a13"/><rect x="1137" y="163" width="1" height="3" fill="#d75442"/><rect x="1141" y="145" width="1" height="23" fill="#737375"/><rect x="1140" y="150" width="3" height="15" fill="#225437"/><rect x="1141" y="151" width="1" height="13" fill="#6ba583"/><rect x="1146" y="147" width="1" height="21" fill="#737375"/><rect x="1145" y="156" width="3" height="12" fill="#5b1a13"/><rect x="1146" y="157" width="1" height="10" fill="#d75442"/><rect x="1151" y="159" width="1" height="19" fill="#737375"/><rect x="1150" y="160" width="3" height="8" fill="#225437"/><rect x="1151" y="161" width="1" height="6" fill="#6ba583"/><rect x="1155" y="152" width="1" height="14" fill="#737375"/><rect x="1154" y="158" width="3" height="7" fill="#225437"/><rect x="1155" y="159" width="1" height="5" fill="#6ba583"/><rect x="1160" y="142" width="1" height="16" fill="#737375"/><rect x="1159" y="145" width="3" height="2" fill="#225437"/><rect x="1164" y="131" width="1" height="20" fill="#737375"/><rect x="1163" y="138" width="3" height="9" fill="#225437"/><rect x="1164" y="139" width="1" height="7" fill="#6ba583"/><rect x="1169" y="137" width="1" height="30" fill="#737375"/><rect x="1168" y="141" width="3" height="18" fill="#5b1a13"/><rect x="1169" y="142" width="1" height="16" fill="#d75442"/><rect x="1173" y="163" width="1" height="42" fill="#737375"/><rect x="1172" y="163" width="3" height="26" fill="#5b1a13"/><rect x="1173" y="164" width="1" height="24" fill="#d75442"/><rect x="1178" y="166" width="1" height="23" fill="#737375"/><rect x="1177" y="172" width="3" height="16" fill="#5b1a13"/><rect x="1178" y="173" width="1" height="14" fill="#d75442"/><rect x="1182" y="168" width="1" height="18" fill="#737375"/><rect x="1181" y="181" width="3" height="5" fill="#5b1a13"/><rect x="1182" y="182" width="1" height="3" fill="#d75442"/><rect x="1187" y="183" width="1" height="21" fill="#737375"/><rect x="1186" y="189" width="3" height="3" fill="#225437"/><rect x="1187" y="190" width="1" height="1" fill="#6ba583"/><rect x="1192" y="190" width="1" height="20" fill="#737375"/><rect x="1191" y="199" width="3" height="11" fill="#5b1a13"/><rect x="1192" y="200" width="1" height="9" fill="#d75442"/><rect x="1196" y="193" width="1" height="19" fill="#737375"/><rect x="1195" y="198" width="3" height="9" fill="#225437"/><rect x="1196" y="199" width="1" height="7" fill="#6ba583"/><rect x="1201" y="186" width="1" height="20" fill="#737375"/><rect x="1200" y="188" width="3" height="6" fill="#225437"/><rect x="1201" y="189" width="1" height="4" fill="#6ba583"/><rect x="1205" y="178" width="1" height="8" fill="#737375"/><rect x="1204" y="184" width="3" height="2" fill="#225437"/><rect x="1210" y="171" width="1" height="19" fill="#737375"/><rect x="1209" y="179" width="3" height="7" fill="#225437"/><rect x="1210" y="180" width="1" height="5" fill="#6ba583"/><rect x="1214" y="180" width="1" height="32" fill="#737375"/><rect x="1213" y="181" width="3" height="29" fill="#5b1a13"/><rect x="1214" y="182" width="1" height="27" fill="#d75442"/><rect x="1219" y="204" width="1" height="18" fill="#737375"/><rect x="1218" y="207" width="3" height="4" fill="#5b1a13"/><rect x="1219" y="208" width="1" height="2" fill="#d75442"/><rect x="1224" y="208" width="1" height="30" fill="#737375"/><rect x="1223" y="218" width="3" height="8" fill="#225437"/><rect x="1224" y="219" width="1" height="6" fill="#6ba583"/><rect x="1228" y="181" width="1" height="28" fill="#737375"/><rect x="1227" y="193" width="3" height="11" fill="#225437"/><rect x="1228" y="194" width="1" height="9" fill="#6ba583"/><rect x="1233" y="164" width="1" height="20" fill="#737375"/><rect x="1232" y="167" width="3" height="17" fill="#225437"/><rect x="1233" y="168" width="1" height="15" fill="#6ba583"/><rect x="1237" y="163" width="1" height="22" fill="#737375"/><rect x="1236" y="167" width="3" height="8" fill="#5b1a13"/><rect x="1237" y="168" width="1" height="6" fill="#d75442"/><rect x="1242" y="205" width="1" height="24" fill="#737375"/><rect x="1241" y="206" width="3" height="2" fill="#5b1a13"/><rect x="1246" y="190" width="1" height="38" fill="#737375"/><rect x="1245" y="196" width="3" height="20" fill="#5b1a13"/><rect x="1246" y="197" width="1" height="18" fill="#d75442"/><rect x="1251" y="222" width="1" height="26" fill="#737375"/><rect x="1250" y="223" width="3" height="17" fill="#5b1a13"/><rect x="1251" y="224" width="1" height="15" fill="#d75442"/><rect x="1256" y="200" width="1" height="36" fill="#737375"/><rect x="1255" y="217" width="3" height="19" fill="#5b1a13"/><rect x="1256" y="218" width="1" height="17" fill="#d75442"/><rect x="1260" y="189" width="1" height="45" fill="#737375"/><rect x="1259" y="198" width="3" height="30" fill="#225437"/><rect x="1260" y="199" width="1" height="28" fill="#6ba583"/><rect x="1265" y="177" width="1" height="42" fill="#737375"/><rect x="1264" y="186" width="3" height="20" fill="#5b1a13"/><rect x="1265" y="187" width="1" height="18" fill="#d75442"/><rect x="1269" y="179" width="1" height="18" fill="#737375"/><rect x="1268" y="186" width="3" height="9" fill="#5b1a13"/><rect x="1269" y="187" width="1" height="7" fill="#d75442"/><rect x="1274" y="154" width="1" height="29" fill="#737375"/><rect x="1273" y="160" width="3" height="23" fill="#225437"/><rect x="1274" y="161" width="1" height="21" fill="#6ba583"/><rect x="1278" y="154" width="1" height="19" fill="#737375"/><rect x="1277" y="159" width="3" height="14" fill="#5b1a13"/><rect x="1278" y="160" width="1" height="12" fill="#d75442"/><rect x="1283" y="167" width="1" height="17" fill="#737375"/><rect x="1282" y="178" width="3" height="3" fill="#5b1a13"/><rect x="1283" y="179" width="1" height="1" fill="#d75442"/><rect x="1288" y="173" width="1" height="30" fill="#737375"/><rect x="1287" y="176" width="3" height="27" fill="#5b1a13"/><rect x="1288" y="177" width="1" height="25" fill="#d75442"/><rect x="1292" y="205" width="1" height="14" fill="#737375"/><rect x="1291" y="205" width="3" height="11" fill="#5b1a13"/><rect x="1292" y="206" width="1" height="9" fill="#d75442"/><rect x="1297" y="192" width="1" height="29" fill="#737375"/><rect x="1296" y="198" width="3" height="23" fill="#225437"/><rect x="1297" y="199" width="1" height="21" fill="#6ba583"/><rect x="1301" y="188" width="1" height="28" fill="#737375"/><rect x="1300" y="192" width="3" height="4" fill="#225437"/><rect x="1301" y="193" width="1" height="2" fill="#6ba583"/><rect x="1306" y="172" width="1" height="17" fill="#737375"/><rect x="1305" y="173" width="3" height="11" fill="#5b1a13"/><rect x="1306" y="174" width="1" height="9" fill="#d75442"/><rect x="1310" y="192" width="1" height="26" fill="#737375"/><rect x="1309" y="192" width="3" height="25" fill="#5b1a13"/><rect x="1310" y="193" width="1" height="23" fill="#d75442"/><rect x="1315" y="228" width="1" height="18" fill="#737375"/><rect x="1314" y="232" width="3" height="3" fill="#5b1a13"/><rect x="1315" y="233" width="1" height="1" fill="#d75442"/><rect x="1319" y="202" width="1" height="25" fill="#737375"/><rect x="1318" y="209" width="3" height="17" fill="#225437"/><rect x="1319" y="210" width="1" height="15" fill="#6ba583"/><rect x="1324" y="200" width="1" height="12" fill="#737375"/><rect x="1323" y="204" width="3" height="7" fill="#225437"/><rect x="1324" y="205" width="1" height="5" fill="#6ba583"/><rect x="1329" y="186" width="1" height="13" fill="#737375"/><rect x="1328" y="194" width="3" height="3" fill="#225437"/><rect x="1329" y="195" width="1" height="1" fill="#6ba583"/><rect x="1333" y="181" width="1" height="14" fill="#737375"/><rect x="1332" y="182" width="3" height="8" fill="#225437"/><rect x="1333" y="183" width="1" height="6" fill="#6ba583"/><rect x="1338" y="176" width="1" height="13" fill="#737375"/><rect x="1337" y="180" width="3" height="6" fill="#5b1a13"/><rect x="1338" y="181" width="1" height="4" fill="#d75442"/><rect x="1342" y="181" width="1" height="18" fill="#737375"/><rect x="1341" y="186" width="3" height="13" fill="#5b1a13"/><rect x="1342" y="187" width="1" height="11" fill="#d75442"/><rect x="1347" y="186" width="1" height="13" fill="#737375"/><rect x="1346" y="198" width="3" height="1" fill="#5b1a13"/><rect x="1351" y="194" width="1" height="18" fill="#737375"/><rect x="1350" y="199" width="3" height="7" fill="#5b1a13"/><rect x="1351" y="200" width="1" height="5" fill="#d75442"/><rect x="1356" y="172" width="1" height="22" fill="#737375"/><rect x="1355" y="184" width="3" height="10" fill="#225437"/><rect x="1356" y="185" width="1" height="8" fill="#6ba583"/><rect x="1361" y="138" width="1" height="28" fill="#737375"/><rect x="1360" y="142" width="3" height="24" fill="#225437"/><rect x="1361" y="143" width="1" height="22" fill="#6ba583"/><rect x="1365" y="134" width="1" height="36" fill="#737375"/><rect x="1364" y="148" width="3" height="22" fill="#5b1a13"/><rect x="1365" y="149" width="1" height="20" fill="#d75442"/><rect x="1370" y="144" width="1" height="36" fill="#737375"/><rect x="1369" y="144" width="3" height="7" fill="#5b1a13"/><rect x="1370" y="145" width="1" height="5" fill="#d75442"/><rect x="1374" y="140" width="1" height="16" fill="#737375"/><rect x="1373" y="144" width="3" height="6" fill="#225437"/><rect x="1374" y="145" width="1" height="4" fill="#6ba583"/><rect x="1379" y="134" width="1" height="23" fill="#737375"/><rect x="1378" y="138" width="3" height="7" fill="#5b1a13"/><rect x="1379" y="139" width="1" height="5" fill="#d75442"/><rect x="1383" y="124" width="1" height="25" fill="#737375"/><rect x="1382" y="125" width="3" height="19" fill="#225437"/><rect x="1383" y="126" width="1" height="17" fill="#6ba583"/><rect x="1388" y="120" width="1" height="42" fill="#737375"/><rect x="1387" y="125" width="3" height="31" fill="#5b1a13"/><rect x="1388" y="126" width="1" height="29" fill="#d75442"/><rect x="1393" y="141" width="1" height="22" fill="#737375"/><rect x="1392" y="151" width="3" height="9" fill="#5b1a13"/><rect x="1393" y="152" width="1" height="7" fill="#d75442"/><rect x="1397" y="181" width="1" height="32" fill="#737375"/><rect x="1396" y="189" width="3" height="9" fill="#5b1a13"/><rect x="1397" y="190" width="1" height="7" fill="#d75442"/><rect x="1402" y="223" width="1" height="36" fill="#737375"/><rect x="1401" y="228" width="3" height="21" fill="#5b1a13"/><rect x="1402" y="229" width="1" height="19" fill="#d75442"/><rect x="1406" y="204" width="1" height="34" fill="#737375"/><rect x="1405" y="207" width="3" height="24" fill="#5b1a13"/><rect x="1406" y="208" width="1" height="22" fill="#d75442"/></g>
<line x1="1" y1="230.5" x2="1574" y2="230.5" stroke="#d75442" stroke-width="1" stroke-dasharray="1 2" shape-rendering="crispEdges"/>
<g clip-path="url(#mc)"><line x1="936" y1="126.7" x2="1470" y2="116.9" stroke="#000" stroke-width="2.2"/>
<line x1="977" y1="216.5" x2="1461" y2="266.9" stroke="#000" stroke-width="2.2"/></g>
<g clip-path="url(#mc)">
<path d="M256.5,559.4 L265.0,564.3 L265.0,577.9 L248.0,577.9 L248.0,564.3 Z" fill="#fff" stroke="#089981" stroke-width="2" stroke-linejoin="round"/><text x="0" y="573" text-anchor="middle" font-size="12.5" fill="#089981" stroke="#089981" stroke-width="0.35" transform="translate(256.5,0) scale(0.84,1)">E</text>
<path d="M529.5,559.4 L538.0,564.3 L538.0,577.9 L521.0,577.9 L521.0,564.3 Z" fill="#fff" stroke="#089981" stroke-width="2" stroke-linejoin="round"/><text x="0" y="573" text-anchor="middle" font-size="12.5" fill="#089981" stroke="#089981" stroke-width="0.35" transform="translate(529.5,0) scale(0.84,1)">E</text>
<path d="M813.5,559.4 L822.0,564.3 L822.0,577.9 L805.0,577.9 L805.0,564.3 Z" fill="#fff" stroke="#089981" stroke-width="2" stroke-linejoin="round"/><text x="0" y="573" text-anchor="middle" font-size="12.5" fill="#089981" stroke="#089981" stroke-width="0.35" transform="translate(813.5,0) scale(0.84,1)">E</text>
<path d="M1105.5,559.4 L1114.0,564.3 L1114.0,577.9 L1097.0,577.9 L1097.0,564.3 Z" fill="#fff" stroke="#089981" stroke-width="2" stroke-linejoin="round"/><text x="0" y="573" text-anchor="middle" font-size="12.5" fill="#089981" stroke="#089981" stroke-width="0.35" transform="translate(1105.5,0) scale(0.84,1)">E</text>
<path d="M1406.5,559.4 L1415.0,564.3 L1415.0,577.9 L1398.0,577.9 L1398.0,564.3 Z" fill="#fff" stroke="#089981" stroke-width="2" stroke-linejoin="round"/><text x="0" y="573" text-anchor="middle" font-size="12.5" fill="#089981" stroke="#089981" stroke-width="0.35" transform="translate(1406.5,0) scale(0.84,1)">E</text>
<circle cx="4.5" cy="569.4" r="9.2" fill="#fff" stroke="#2962ff" stroke-width="2"/><text x="0" y="573" text-anchor="middle" font-size="12.5" fill="#2962ff" stroke="#2962ff" stroke-width="0.35" transform="translate(4.5,0) scale(0.88,1)">D</text>
<circle cx="283.5" cy="569.4" r="9.2" fill="#fff" stroke="#2962ff" stroke-width="2"/><text x="0" y="573" text-anchor="middle" font-size="12.5" fill="#2962ff" stroke="#2962ff" stroke-width="0.35" transform="translate(283.5,0) scale(0.88,1)">D</text>
<circle cx="571.5" cy="569.4" r="9.2" fill="#fff" stroke="#2962ff" stroke-width="2"/><text x="0" y="573" text-anchor="middle" font-size="12.5" fill="#2962ff" stroke="#2962ff" stroke-width="0.35" transform="translate(571.5,0) scale(0.88,1)">D</text>
<circle cx="858.5" cy="569.4" r="9.2" fill="#fff" stroke="#2962ff" stroke-width="2"/><text x="0" y="573" text-anchor="middle" font-size="12.5" fill="#2962ff" stroke="#2962ff" stroke-width="0.35" transform="translate(858.5,0) scale(0.88,1)">D</text>
<circle cx="1151.5" cy="569.4" r="9.2" fill="#fff" stroke="#2962ff" stroke-width="2"/><text x="0" y="573" text-anchor="middle" font-size="12.5" fill="#2962ff" stroke="#2962ff" stroke-width="0.35" transform="translate(1151.5,0) scale(0.88,1)">D</text>
</g>
<g clip-path="url(#rc)"><polyline points="-0.2,657.3 3.8,658.8 8.8,660.8 12.8,662.2 17.8,662.5 22.8,662.7 26.8,662.7 31.8,662.7 35.8,660.7 40.8,658.2 44.8,656.0 49.8,654.5 54.8,651.8 58.8,647.0 63.8,641.5 67.8,636.2 72.8,631.2 76.8,628.3 81.8,625.5 86.8,621.9 90.8,618.9 95.8,615.3 99.8,615.5 104.8,615.1 108.8,614.6 113.8,613.4 118.8,612.4 122.8,612.6 127.8,613.3 131.8,613.9 136.8,614.3 140.8,614.9 145.8,617.6 149.8,620.2 154.8,622.6 159.8,624.9 163.8,625.9 168.8,625.9 172.8,627.0 177.8,627.5 181.8,628.4 186.8,628.7 191.8,629.0 195.8,629.5 200.8,629.6 204.8,628.8 209.8,626.3 213.8,623.5 218.8,620.6 223.8,617.8 227.8,614.3 232.8,612.7 236.8,610.4 241.8,608.5 245.8,607.8 250.8,607.3 255.8,606.6 259.8,606.2 264.8,606.7 268.8,608.8 273.8,612.3 277.8,618.8 282.8,625.0 286.8,632.5 291.8,639.6 296.8,644.5 300.8,649.4 305.8,653.7 309.8,656.3 314.8,658.1 318.8,659.8 323.8,661.3 328.8,662.7 332.8,661.8 337.8,659.4 341.8,655.8 346.8,653.4 350.8,649.1 355.8,644.7 360.8,642.2 364.8,638.6 369.8,637.0 373.8,637.0 378.8,636.4 382.8,635.2 387.8,633.7 392.8,632.3 396.8,631.7 401.8,631.6 405.8,631.1 410.8,629.3 414.8,628.0 419.8,627.0 423.8,626.5 428.8,628.0 433.8,627.7 437.8,626.3 442.8,626.7 446.8,628.4 451.8,632.4 455.8,635.5 460.8,638.0 465.8,640.6 469.8,644.3 474.8,648.0 478.8,652.7 483.8,657.2 487.8,661.5 492.8,663.9 497.8,667.0 501.8,669.3 506.8,670.4 510.8,671.2 515.8,670.7 519.8,669.5 524.8,668.7 528.8,669.5 533.8,668.0 538.8,669.0 542.8,667.9 547.8,667.8 551.8,666.1 556.8,665.0 560.8,663.6 565.8,662.5 570.8,661.4 574.8,660.7 579.8,659.6 583.8,659.1 588.8,657.8 592.8,654.0 597.8,650.9 602.8,647.1 606.8,645.5 611.8,644.2 615.8,643.8 620.8,642.5 624.8,641.2 629.8,640.9 634.8,641.7 638.8,641.4 643.8,640.3 647.8,638.8 652.8,638.8 656.8,639.6 661.8,640.3 665.8,639.8 670.8,637.8 675.8,634.9 679.8,632.3 684.8,630.6 688.8,629.8 693.8,628.7 697.8,627.1 702.8,626.7 707.8,626.8 711.8,628.6 716.8,629.8 720.8,630.9 725.8,634.6 729.8,640.4 734.8,645.3 739.8,650.6 743.8,655.9 748.8,660.6 752.8,663.9 757.8,667.2 761.8,668.8 766.8,669.1 771.8,669.5 775.8,668.7 780.8,669.1 784.8,669.8 789.8,669.6 793.8,666.3 798.8,663.1 802.8,659.7 807.8,656.9 812.8,654.7 816.8,654.3 821.8,654.3 825.8,654.5 830.8,654.0 834.8,653.6 839.8,653.9 844.8,652.2 848.8,650.4 853.8,647.6 857.8,646.1 862.8,645.9 866.8,645.8 871.8,645.0 876.8,644.5 880.8,642.4 885.8,638.6 889.8,635.9 894.8,634.0 898.8,631.4 903.8,628.2 908.8,626.3 912.8,624.6 917.8,623.3 921.8,623.4 926.8,624.3 930.8,624.8 935.8,624.9 939.8,624.3 944.8,624.0 949.8,624.8 953.8,625.2 958.8,627.1 962.8,629.4 967.8,632.0 971.8,633.6 976.8,635.6 981.8,636.8 985.8,637.4 990.8,636.7 994.8,636.8 999.8,636.9 1003.8,639.6 1008.8,641.9 1013.8,644.4 1017.8,648.0 1022.8,652.3 1026.8,657.0 1031.8,659.7 1035.8,661.2 1040.8,662.7 1044.8,663.0 1049.8,664.4 1054.8,667.1 1058.8,670.3 1063.8,673.1 1067.8,674.6 1072.8,675.8 1076.8,676.7 1081.8,677.2 1086.8,675.4 1090.8,674.4 1095.8,675.1 1099.8,676.7 1104.8,676.9 1108.8,677.7 1113.8,677.2 1118.8,675.4 1122.8,673.5 1127.8,672.6 1131.8,670.3 1136.8,668.9 1140.8,666.7 1145.8,665.4 1150.8,664.3 1154.8,662.0 1159.8,659.3 1163.8,656.8 1168.8,656.6 1172.8,658.3 1177.8,659.7 1181.8,661.0 1186.8,662.0 1191.8,663.8 1195.8,665.5 1200.8,666.8 1204.8,668.5 1209.8,669.0 1213.8,671.4 1218.8,673.9 1223.8,677.4 1227.8,679.6 1232.8,679.3 1236.8,677.9 1241.8,678.1 1245.8,678.7 1250.8,680.0 1255.8,680.1 1259.8,679.1 1264.8,679.0 1268.8,678.6 1273.8,677.2 1277.8,674.9 1282.8,672.8 1287.8,671.3 1291.8,671.9 1296.8,673.0 1300.8,673.4 1305.8,671.9 1309.8,671.5 1314.8,670.9 1318.8,669.4 1323.8,669.4 1328.8,668.8 1332.8,668.2 1337.8,669.1 1341.8,670.0 1346.8,670.5 1350.8,670.5 1355.8,669.0 1360.8,666.6 1364.8,665.9 1369.8,664.8 1373.8,662.2 1378.8,659.0 1382.8,656.2 1387.8,655.2 1392.8,654.8 1396.8,656.3 1401.8,659.0 1405.8,660.4" fill="none" stroke="#f8d92a" stroke-width="1" stroke-linejoin="round"/>
<polyline points="-0.2,690.9 3.8,684.6 8.8,684.6 12.8,668.3 17.8,653.1 22.8,650.0 26.8,643.6 31.8,649.4 35.8,620.8 40.8,623.6 44.8,620.3 49.8,629.6 54.8,623.6 58.8,616.3 63.8,612.6 67.8,611.7 72.8,614.4 76.8,626.8 81.8,614.4 86.8,599.9 90.8,600.8 95.8,599.3 99.8,624.1 104.8,617.0 108.8,613.6 113.8,613.6 118.8,609.4 122.8,619.3 127.8,622.4 131.8,620.3 136.8,619.4 140.8,635.7 145.8,651.7 149.8,636.2 154.8,634.3 159.8,631.7 163.8,638.6 168.8,616.7 172.8,628.9 177.8,620.8 181.8,622.3 186.8,622.7 191.8,627.1 195.8,626.3 200.8,621.6 204.8,624.5 209.8,616.5 213.8,597.4 218.8,593.4 223.8,592.2 227.8,590.0 232.8,594.1 236.8,597.3 241.8,593.8 245.8,612.1 250.8,615.4 255.8,618.3 259.8,620.1 264.8,629.1 268.8,652.8 273.8,665.6 277.8,689.4 282.8,680.4 286.8,696.2 291.8,690.2 296.8,662.5 300.8,666.1 305.8,653.5 309.8,648.0 314.8,641.6 318.8,641.6 323.8,641.0 328.8,648.2 332.8,640.9 337.8,632.3 341.8,638.9 346.8,645.7 350.8,637.1 355.8,628.4 360.8,627.9 364.8,614.6 369.8,632.2 373.8,647.2 378.8,633.6 382.8,625.4 387.8,619.8 392.8,628.9 396.8,631.9 401.8,630.6 405.8,632.5 410.8,620.2 414.8,619.3 419.8,614.3 423.8,620.0 428.8,636.1 433.8,627.6 437.8,627.4 442.8,639.5 446.8,650.2 451.8,674.8 455.8,673.0 460.8,666.0 465.8,667.3 469.8,684.3 474.8,672.8 478.8,684.0 483.8,678.2 487.8,680.1 492.8,669.8 497.8,670.4 501.8,659.8 506.8,655.1 510.8,661.0 515.8,668.2 519.8,656.0 524.8,655.4 528.8,677.3 533.8,664.4 538.8,686.2 542.8,669.3 547.8,676.5 551.8,656.7 556.8,653.4 560.8,650.5 565.8,645.6 570.8,639.4 574.8,651.2 579.8,651.9 583.8,649.9 588.8,637.2 592.8,624.3 597.8,620.2 602.8,632.6 606.8,647.7 611.8,658.4 615.8,650.4 620.8,635.6 624.8,632.1 629.8,642.1 634.8,650.1 638.8,647.1 643.8,636.3 647.8,629.0 652.8,638.0 656.8,634.9 661.8,629.5 665.8,626.1 670.8,620.3 675.8,617.2 679.8,614.5 684.8,611.2 688.8,621.4 693.8,625.9 697.8,628.3 702.8,641.0 707.8,637.8 711.8,654.2 716.8,654.2 720.8,650.2 725.8,682.6 729.8,706.6 734.8,689.1 739.8,690.5 743.8,689.5 748.8,677.5 752.8,666.4 757.8,672.9 761.8,651.2 766.8,645.0 771.8,642.8 775.8,642.8 780.8,659.7 784.8,661.0 789.8,679.6 793.8,659.8 798.8,645.3 802.8,642.6 807.8,649.5 812.8,647.9 816.8,659.7 821.8,673.8 825.8,653.8 830.8,637.3 834.8,637.9 839.8,645.9 844.8,636.1 848.8,636.1 853.8,640.8 857.8,638.9 862.8,642.2 866.8,641.0 871.8,638.3 876.8,641.0 880.8,630.8 885.8,620.6 889.8,616.0 894.8,609.8 898.8,602.7 903.8,599.9 908.8,610.1 912.8,612.0 917.8,622.5 921.8,640.6 926.8,655.1 930.8,648.2 935.8,638.6 939.8,633.0 944.8,627.5 949.8,631.1 953.8,621.8 958.8,636.8 962.8,634.8 967.8,636.4 971.8,632.3 976.8,639.3 981.8,640.2 985.8,648.0 990.8,645.8 994.8,649.1 999.8,641.2 1003.8,670.4 1008.8,659.5 1013.8,666.0 1017.8,672.7 1022.8,697.1 1026.8,699.5 1031.8,674.4 1035.8,654.1 1040.8,659.3 1044.8,645.2 1049.8,668.0 1054.8,682.8 1058.8,693.5 1063.8,681.5 1067.8,690.6 1072.8,677.2 1076.8,677.8 1081.8,679.7 1086.8,671.4 1090.8,686.7 1095.8,683.0 1099.8,677.5 1104.8,662.3 1108.8,655.8 1113.8,660.9 1118.8,658.3 1122.8,666.3 1127.8,669.1 1131.8,658.5 1136.8,657.6 1140.8,647.1 1145.8,660.8 1150.8,655.7 1154.8,654.6 1159.8,646.0 1163.8,641.8 1168.8,660.0 1172.8,679.9 1177.8,679.5 1181.8,677.6 1186.8,680.1 1191.8,693.3 1195.8,683.5 1200.8,674.8 1204.8,671.8 1209.8,667.5 1213.8,689.5 1218.8,689.8 1223.8,694.6 1227.8,672.8 1232.8,654.7 1236.8,660.9 1241.8,681.6 1245.8,686.1 1250.8,698.3 1255.8,694.8 1259.8,669.3 1264.8,673.5 1268.8,666.6 1273.8,648.3 1277.8,656.7 1282.8,661.2 1287.8,673.9 1291.8,680.7 1296.8,670.1 1300.8,666.4 1305.8,661.4 1309.8,680.5 1314.8,688.8 1318.8,673.5 1323.8,670.6 1328.8,664.5 1332.8,658.0 1337.8,661.0 1341.8,669.2 1346.8,668.9 1350.8,673.6 1355.8,659.0 1360.8,637.4 1364.8,655.5 1369.8,647.0 1373.8,643.7 1378.8,644.0 1382.8,635.1 1387.8,655.7 1392.8,658.6 1396.8,679.1 1401.8,699.2 1405.8,689.0" fill="none" stroke="#7e57c2" stroke-width="1" stroke-linejoin="round"/></g>
<rect x="0" y="596" width="104" height="14" fill="#fff" fill-opacity="0.7"/>
<text x="12.3" y="604" text-anchor="end" font-size="13" fill="#7e57c2">40.89</text>
<text x="17.4" y="604" font-size="13" fill="#fbdf1e">53.03</text>
<text x="55.8" y="604" font-size="13" fill="#2a2a2a" textLength="19.6" lengthAdjust="spacing">n/a</text>
<text x="82.8" y="604" font-size="13" fill="#2a2a2a" textLength="19.6" lengthAdjust="spacing">n/a</text>
<g shape-rendering="crispEdges">
<rect x="0" y="582" width="1653" height="1" fill="#505050"/>
<rect x="0" y="723" width="1653" height="1" fill="#505050"/>
<rect x="1599" y="0" width="1" height="751" fill="#505050"/>
<rect x="1653" y="0" width="2" height="752" fill="#dfe2ec"/>
<rect x="0" y="751" width="1655" height="1" fill="#dfe2ec"/>
</g>
<text x="1609" y="25" font-size="11" fill="#4a4a4a">116.00</text>
<text x="1609" y="66" font-size="11" fill="#4a4a4a">112.00</text>
<text x="1609" y="107" font-size="11" fill="#4a4a4a">108.00</text>
<text x="1609" y="148" font-size="11" fill="#4a4a4a">104.00</text>
<text x="1609" y="189" font-size="11" fill="#4a4a4a">100.00</text>
<text x="1609" y="271" font-size="11" fill="#4a4a4a">92.00</text>
<text x="1609" y="313" font-size="11" fill="#4a4a4a">88.00</text>
<text x="1609" y="354" font-size="11" fill="#4a4a4a">84.00</text>
<text x="1609" y="395" font-size="11" fill="#4a4a4a">80.00</text>
<text x="1609" y="436" font-size="11" fill="#4a4a4a">76.00</text>
<text x="1609" y="477" font-size="11" fill="#4a4a4a">72.00</text>
<text x="1609" y="518" font-size="11" fill="#4a4a4a">68.00</text>
<text x="1609" y="560" font-size="11" fill="#4a4a4a">64.00</text>
<text x="1609" y="598" font-size="11" fill="#4a4a4a">80.00</text>
<text x="1609" y="646" font-size="11" fill="#4a4a4a">60.00</text>
<text x="1609" y="694" font-size="11" fill="#4a4a4a">40.00</text>
<path d="M1599,153 h46 a2,2 0 0 1 2,2 v13 a2,2 0 0 1 -2,2 h-46 z" fill="#f23645"/><text x="1609" y="165" font-size="11" font-weight="bold" fill="#fff">102.41</text>
<path d="M1599,198 h41 a2,2 0 0 1 2,2 v13 a2,2 0 0 1 -2,2 h-41 z" fill="#f23645"/><text x="1609" y="210" font-size="11" font-weight="bold" fill="#fff">98.09</text>
<path d="M1599,222 h41 a2,2 0 0 1 2,2 v13 a2,2 0 0 1 -2,2 h-41 z" fill="#d75442"/><text x="1609" y="234" font-size="11" font-weight="bold" fill="#fff">95.73</text>
<path d="M1598,222 v17 h-22 a2,2 0 0 1 -2,-2 v-13 a2,2 0 0 1 2,-2 z" fill="#d75442"/>
<text x="1578.3" y="234" font-size="11" font-weight="bold" fill="#fff" textLength="13.6" lengthAdjust="spacingAndGlyphs">MS</text>
<text x="13.5" y="740" text-anchor="middle" font-size="11" fill="#4a4a4a">Nov</text>
<text x="105.5" y="740" text-anchor="middle" font-size="11" fill="#4a4a4a">Dec</text>
<text x="205.5" y="740" text-anchor="middle" font-size="11" font-weight="bold" fill="#4a4a4a">2021</text>
<text x="292.5" y="740" text-anchor="middle" font-size="11" fill="#4a4a4a">Feb</text>
<text x="379.5" y="740" text-anchor="middle" font-size="11" fill="#4a4a4a">Mar</text>
<text x="484.5" y="740" text-anchor="middle" font-size="11" fill="#4a4a4a">Apr</text>
<text x="580.5" y="740" text-anchor="middle" font-size="11" fill="#4a4a4a">May</text>
<text x="671.5" y="740" text-anchor="middle" font-size="11" fill="#4a4a4a">Jun</text>
<text x="772.5" y="740" text-anchor="middle" font-size="11" fill="#4a4a4a">Jul</text>
<text x="867.5" y="740" text-anchor="middle" font-size="11" fill="#4a4a4a">Aug</text>
<text x="968.5" y="740" text-anchor="middle" font-size="11" fill="#4a4a4a">Sep</text>
<text x="1064.5" y="740" text-anchor="middle" font-size="11" fill="#4a4a4a">Oct</text>
<text x="1160.5" y="740" text-anchor="middle" font-size="11" fill="#4a4a4a">Nov</text>
<text x="1256.5" y="740" text-anchor="middle" font-size="11" fill="#4a4a4a">Dec</text>
<text x="1356.5" y="740" text-anchor="middle" font-size="11" font-weight="bold" fill="#4a4a4a">2022</text>
<text x="1447.5" y="740" text-anchor="middle" font-size="11" fill="#4a4a4a">Feb</text>
<text x="1534.5" y="740" text-anchor="middle" font-size="11" fill="#4a4a4a">Mar</text>
<g transform="translate(1626.5,737.4)" stroke="#000" fill="none"><circle r="4.75" stroke-width="1.25"/><line x1="0" y1="-4.6" x2="0" y2="-7.4" stroke-width="1.3" transform="rotate(0)"/><line x1="0" y1="-4.6" x2="0" y2="-7.4" stroke-width="1.3" transform="rotate(45)"/><line x1="0" y1="-4.6" x2="0" y2="-7.4" stroke-width="1.3" transform="rotate(90)"/><line x1="0" y1="-4.6" x2="0" y2="-7.4" stroke-width="1.3" transform="rotate(135)"/><line x1="0" y1="-4.6" x2="0" y2="-7.4" stroke-width="1.3" transform="rotate(180)"/><line x1="0" y1="-4.6" x2="0" y2="-7.4" stroke-width="1.3" transform="rotate(225)"/><line x1="0" y1="-4.6" x2="0" y2="-7.4" stroke-width="1.3" transform="rotate(270)"/><line x1="0" y1="-4.6" x2="0" y2="-7.4" stroke-width="1.3" transform="rotate(315)"/></g>
</svg>
</body></html>
